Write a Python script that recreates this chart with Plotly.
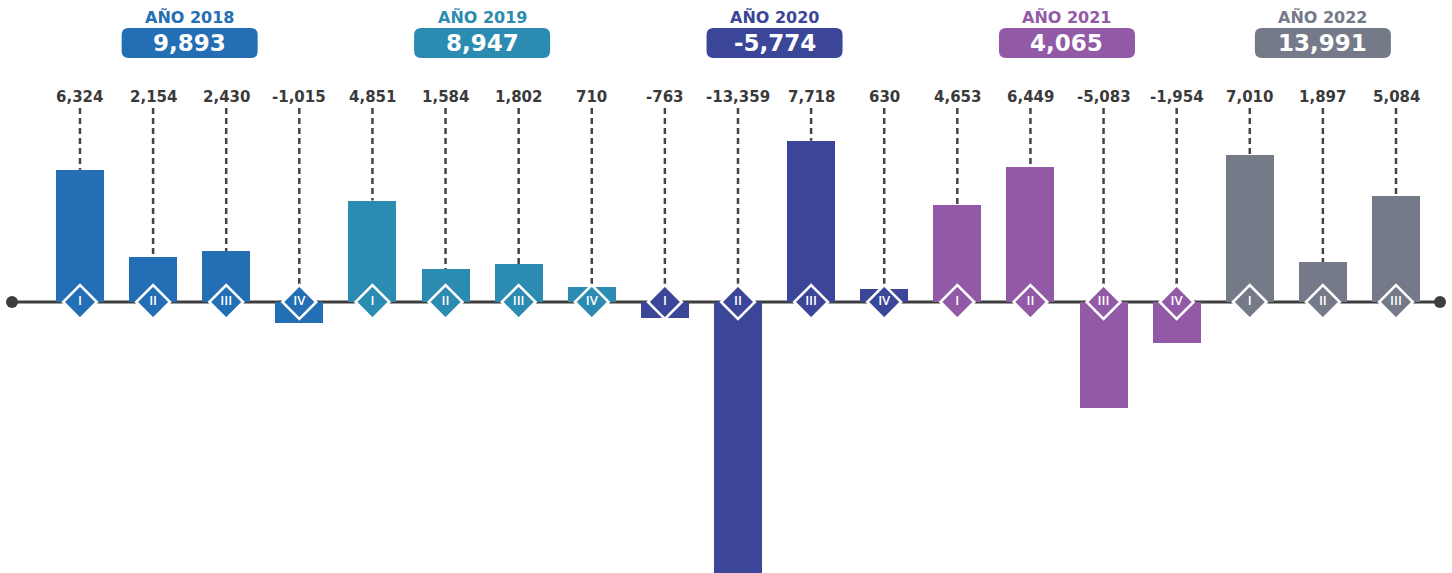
import plotly.graph_objects as go

# ---- data ----
years = ["2018", "2019", "2020", "2021", "2022"]
year_totals = ["9,893", "8,947", "-5,774", "4,065", "13,991"]
year_colors = ["#236EB4", "#2C8BB0", "#3B4699", "#925AA6", "#747A88"]
quarters = ["I", "II", "III", "IV", "I", "II", "III", "IV", "I", "II", "III", "IV",
            "I", "II", "III", "IV", "I", "II", "III"]
quarter_year = ["2018"] * 4 + ["2019"] * 4 + ["2020"] * 4 + ["2021"] * 4 + ["2022"] * 3
values = [6324, 2154, 2430, -1015, 4851, 1584, 1802, 710, -763, -13359, 7718, 630,
          4653, 6449, -5083, -1954, 7010, 1897, 5084]

# ---- layout helpers ----
W, H = 1452, 573
Y0, Y1 = -12967, 14450          # y range (axis line at y=0)
X0, X1 = -1.094, 18.766
ypp = (Y1 - Y0) / H              # data units per pixel
xpp = (X1 - X0) / W
FONT = "DejaVu Sans"


def py(px):
    return Y1 - px * ypp


def pxx(px):
    return X0 + px * xpp


cmap = dict(zip(years, year_colors))
xs = list(range(len(values)))
bar_colors = [cmap[y] for y in quarter_year]

fig = go.Figure()

fig.add_trace(go.Bar(x=xs, y=values, width=0.657, marker=dict(color=bar_colors, line_width=0),
                     hoverinfo="skip", showlegend=False))

# diamonds with roman numerals
fig.add_trace(go.Scatter(x=xs, y=[0] * len(xs), mode="markers+text",
                         marker=dict(symbol="diamond", size=26, color=bar_colors,
                                     line=dict(color="white", width=2.5)),
                         text=quarters, textposition="middle center",
                         textfont=dict(family="Open Sans", size=13, color="white", weight=600),
                         hoverinfo="skip", showlegend=False, cliponaxis=False))

# end dots of axis
fig.add_trace(go.Scatter(x=[pxx(12), pxx(1440)], y=[0, 0], mode="markers",
                         marker=dict(size=12, color="#3d3d3d"), hoverinfo="skip",
                         showlegend=False, cliponaxis=False))

shapes = []
# axis line
shapes.append(dict(type="line", x0=pxx(12), x1=pxx(1440), y0=0, y1=0, layer="below",
                   line=dict(color="#3d3d3d", width=3)))

annotations = []
label_y = py(97)
dash_top = py(108)
diamond_top = py(286)
for x, v in zip(xs, values):
    end = v if v > 0 else diamond_top
    shapes.append(dict(type="line", x0=x, x1=x, y0=dash_top, y1=end, layer="below",
                       line=dict(color="#444444", width=2.5, dash="6px,4px")))
    annotations.append(dict(x=x, y=label_y, text=f"{v:,}", showarrow=False,
                            font=dict(family=FONT, size=15, color="#3a3a3a", weight="bold")))

# year headers
for i, (yr, tot, col) in enumerate(zip(years, year_totals, year_colors)):
    idx = [k for k, q in enumerate(quarter_year) if q == yr]
    cx = (idx[0] + idx[-1]) / 2 if len(idx) == 4 else idx[1]
    halfw = 68 * xpp
    top, bot = py(28), py(58)
    rx, ry = 7 * xpp, 7 * ypp
    l, r = cx - halfw, cx + halfw
    path = (f"M {l+rx},{top} L {r-rx},{top} Q {r},{top} {r},{top-ry} "
            f"L {r},{bot+ry} Q {r},{bot} {r-rx},{bot} L {l+rx},{bot} "
            f"Q {l},{bot} {l},{bot+ry} L {l},{top-ry} Q {l},{top} {l+rx},{top} Z")
    shapes.append(dict(type="path", path=path, fillcolor=col, line=dict(width=0), layer="above"))
    annotations.append(dict(x=cx, y=py(17), text=f"AÑO {yr}", showarrow=False,
                            font=dict(family=FONT, size=16, color=col, weight="bold")))
    annotations.append(dict(x=cx, y=py(43), text=tot, showarrow=False,
                            font=dict(family=FONT, size=23, color="white", weight="bold")))

fig.update_layout(
    width=W, height=H, margin=dict(l=0, r=0, t=0, b=0),
    paper_bgcolor="white", plot_bgcolor="white",
    xaxis=dict(range=[X0, X1], visible=False, fixedrange=True),
    yaxis=dict(range=[Y0, Y1], visible=False, fixedrange=True),
    shapes=shapes, annotations=annotations, bargap=0,
)

fig.write_html("out.html", config={"displayModeBar": False},
               post_script="document.body.style.margin='0';document.body.style.overflow='hidden';")
